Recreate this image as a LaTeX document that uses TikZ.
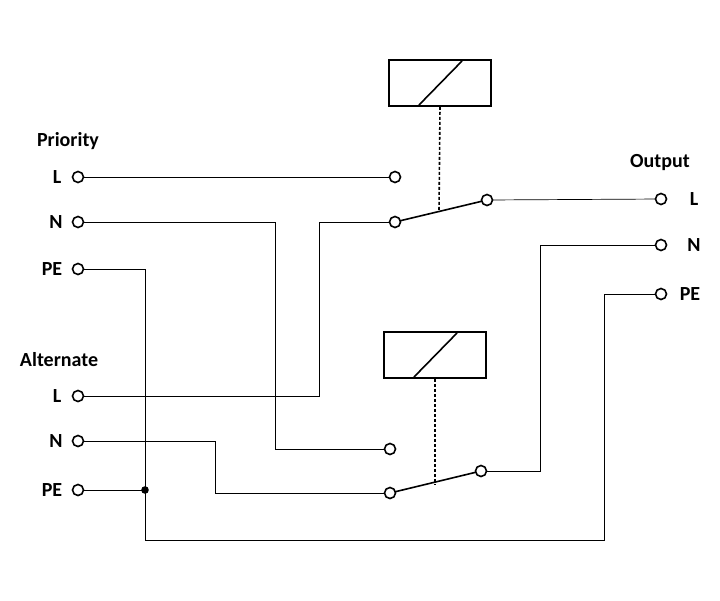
\documentclass[tikz,border=0pt]{standalone}
\usepackage{fontspec}
\setmainfont{Carlito}
\begin{document}
\begin{tikzpicture}[x=1pt,y=-1pt,
  term/.style={circle,draw,line width=1.6pt,fill=white,minimum size=11pt,inner sep=0pt},
  lab/.style={font=\bfseries\fontsize{20}{24}\selectfont},
  wire/.style={line width=0.7pt},
  relay/.style={draw,line width=1.6pt,minimum width=102pt,minimum height=46pt}]
\useasboundingbox (0,0) rectangle (720,600);
% labels
\node[lab] (tp) at (68,141) {Priority};
\node[lab] (ta) at (59,360) {Alternate};
\node[lab] (to) at (660,163) {Output};
\node[lab] at (57,177) {L};
\node[lab] at (56,222) {N};
\node[lab] at (52,269) {PE};
\node[lab] at (57,396) {L};
\node[lab] at (56,441) {N};
\node[lab] at (52,490) {PE};
\node[lab] at (694,199) {L};
\node[lab] at (694,245) {N};
\node[lab] at (690,294) {PE};
% coordinates
\coordinate (j1) at (275,222); \coordinate (j2) at (275,449);
\coordinate (j3) at (145,269); \coordinate (j4) at (145,540); \coordinate (j5) at (604,540); \coordinate (j6) at (604,294);
\coordinate (j7) at (319,396); \coordinate (j8) at (319,222);
\coordinate (j9) at (215,441); \coordinate (j10) at (215,493);
\coordinate (j11) at (540,471); \coordinate (j12) at (540,245);
\coordinate (dot) at (145,490);
% wires
\draw[wire] (78,177) -- (395,177);
\draw[wire] (78,222) -- (j1) -- (j2) -- (390,449);
\draw[wire] (78,269) -- (j3) -- (j4) -- (j5) -- (j6) -- (661,294);
\draw[wire] (78,396) -- (j7) -- (j8) -- (395,222);
\draw[wire] (78,441) -- (j9) -- (j10) -- (390,493);
\draw[wire] (78,490) -- (dot);
\draw[wire] (487,200) -- (661,199);
\draw[wire] (481,471) -- (j11) -- (j12) -- (661,245);
\fill (dot) circle (3.8pt);
% relays
\node[relay] (r1) at (440,83) {};
\draw[line width=1.6pt] (419,105) -- (462,61);
\draw[line width=1.6pt,dash pattern=on 3pt off 2pt] (r1.south) -- (439,212);
\node[relay] (r2) at (435,355) {};
\draw[line width=1.6pt] (414,377) -- (457,333);
\draw[line width=1.6pt,dash pattern=on 3pt off 2pt] (r2.south) -- (435,485);
% switch arms
\draw[line width=1.6pt] (395,222) -- (487,200);
\draw[line width=1.6pt] (390,493) -- (481,471);
% terminals
\foreach \n/\p in {a/{78,177},b/{78,222},c/{78,269},d/{78,396},e/{78,441},f/{78,490},
 g/{661,199},h/{661,245},i/{661,294},k/{395,177},l/{395,222},m/{487,200},n/{390,449},o/{390,493},p/{481,471}}
  \node[term] (t\n) at (\p) {};
\end{tikzpicture}
\end{document}
